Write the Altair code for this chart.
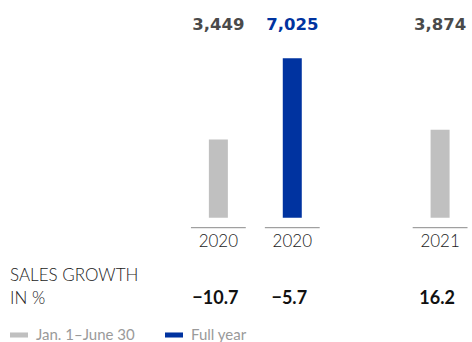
import altair as alt
import pandas as pd

# ---- data ----
slots = [0, 1, 3]
years = ["2020", "2020", "2021"]
periods = ["Jan. 1–June 30", "Full year", "Jan. 1–June 30"]
sales = [3449, 7025, 3874]
growth = [-10.7, -5.7, 16.2]

legend_order = ["Jan. 1–June 30", "Full year"]
legend_colors = ["#c0c0c0", "#0033a0"]

df = pd.DataFrame({"slot": slots, "year": years, "period": periods,
                   "sales": sales, "growth": growth})

FONT = "Lato"
xscale = alt.Scale(domain=[-2.887, 3.364], nice=False, zero=False)
yscale = alt.Scale(domain=[-5476, 9590], nice=False, zero=False)

base = alt.Chart(df)

bars = base.mark_bar(size=19).encode(
    x=alt.X("slot:Q", scale=xscale, axis=None),
    y=alt.Y("sales:Q", scale=yscale, axis=None),
    y2=alt.datum(0),
    color=alt.Color("period:N",
                    scale=alt.Scale(domain=legend_order, range=legend_colors),
                    legend=alt.Legend(
                        title=None, orient="none", legendX=10, legendY=326,
                        direction="horizontal",
                        symbolType="M-1,-0.28L1,-0.28L1,0.28L-1,0.28Z",
                        symbolSize=324, symbolStrokeWidth=0, symbolOpacity=1,
                        labelFont=FONT, labelFontSize=15, labelColor="#9a9a9a",
                        labelOffset=8, columnPadding=30)),
)

rules = base.transform_calculate(
    x0="datum.slot - 0.371", x1="datum.slot + 0.371"
).mark_rule(color="#8a8a8a", strokeWidth=1).encode(
    x=alt.X("x0:Q", scale=xscale),
    x2="x1:Q",
    y=alt.value(227.7),
)

value_labels = base.mark_text(font="DejaVu Sans", fontSize=16.5,
                              fontWeight="bold", baseline="middle",
                              align="center").encode(
    x=alt.X("slot:Q", scale=xscale),
    y=alt.value(25),
    text=alt.Text("sales:Q", format=",d"),
    color=alt.condition(alt.datum.period == "Full year",
                        alt.value("#0033a0"), alt.value("#4a4a4a")),
)

year_labels = base.mark_text(font=FONT, fontSize=17, fontWeight=300,
                             color="#1a1a1a", baseline="middle",
                             align="center").encode(
    x=alt.X("slot:Q", scale=xscale),
    y=alt.value(242),
    text="year:N",
)

growth_labels = base.transform_calculate(
    gtxt="replace(format(datum.growth, '.1f'), '-', '–')"
).mark_text(font=FONT, fontSize=18, fontWeight="bold", color="#111111",
            baseline="middle", align="center", dx=-3).encode(
    x=alt.X("slot:Q", scale=xscale),
    y=alt.value(299),
    text="gtxt:N",
)

title_df = pd.DataFrame({"t": ["SALES GROWTH", "IN %"], "i": [0, 1]})
side_titles = alt.Chart(title_df).mark_text(
    font=FONT, fontSize=17, fontWeight=300, color="#1a1a1a",
    align="left", baseline="middle"
).encode(
    x=alt.value(10),
    y=alt.Y("i:Q", scale=alt.Scale(domain=[0, 1], range=[276, 299]), axis=None),
    text="t:N",
)

chart = alt.layer(bars, rules, value_labels, year_labels, growth_labels,
                  side_titles).resolve_scale(y="independent").properties(
    width=472, height=342, padding=0,
    autosize=alt.AutoSizeParams(type="none"),
).configure_view(stroke=None)

chart.save("out.html", embed_options={"renderer": "svg", "actions": False})
